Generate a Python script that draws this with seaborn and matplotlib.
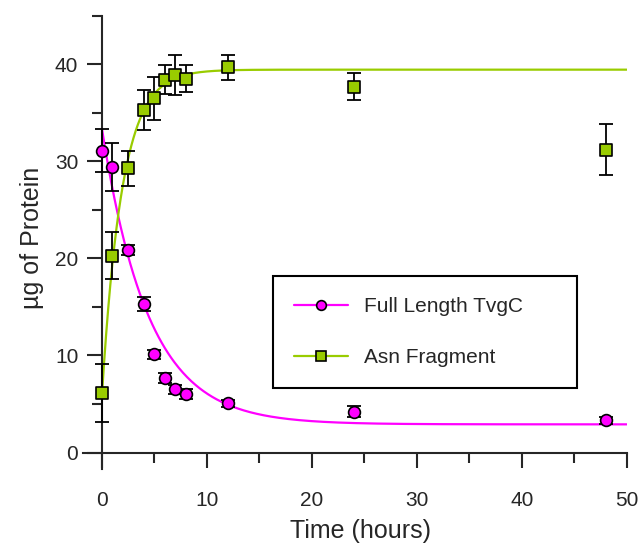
import numpy as np
import pandas as pd
import matplotlib
matplotlib.use("Agg")
import matplotlib.pyplot as plt
import seaborn as sns
from matplotlib.lines import Line2D
from matplotlib.ticker import MultipleLocator

# Measured time points (hours)
times = [0, 1, 2.5, 4, 5, 6, 7, 8, 12, 24, 48]

# Full length TvgC (mean, error)
full_mean = [31.1, 29.4, 20.9, 15.3, 10.1, 7.7, 6.5, 6.0, 5.05, 4.2, 3.3]
full_err = [2.2, 2.5, 0.5, 0.7, 0.5, 0.5, 0.45, 0.5, 0.4, 0.55, 0.35]

# Asn fragment (mean, error)
asn_mean = [6.1, 20.3, 29.3, 35.3, 36.5, 38.4, 38.9, 38.5, 39.7, 37.7, 31.2]
asn_err = [3.0, 2.45, 1.8, 2.1, 2.2, 1.5, 2.1, 1.4, 1.3, 1.4, 2.6]

# One-phase exponential fits: (value at t=0, plateau, rate 1/h)
full_fit = (33.4, 2.9, 0.226)
asn_fit = (5.8, 39.45, 0.52)

labels = ["Full Length TvgC", "Asn Fragment"]
MAGENTA = "#FF00FF"
GREEN = "#99CC00"

sns.set_style("ticks")
plt.rcParams["font.family"] = ["Liberation Sans", "DejaVu Sans"]

df = pd.DataFrame({"time": times, "full": full_mean, "full_err": full_err,
                   "asn": asn_mean, "asn_err": asn_err})

t_fit = np.linspace(0, 50, 500)
fits = pd.DataFrame({"time": t_fit})
for name, (y0, plateau, k) in [("full", full_fit), ("asn", asn_fit)]:
    fits[name] = plateau + (y0 - plateau) * np.exp(-k * t_fit)

# axes box in pixels (left, right, top, bottom)
L, R, T, B = 83, 626.7, 15.8, 469
AW, AH = R - L, B - T

fig = plt.figure(figsize=(6.4, 5.43), dpi=100)
ax = fig.add_axes([L / 640, 1 - B / 543, AW / 640, AH / 543])

# fitted curves
sns.lineplot(data=fits, x="time", y="full", ax=ax, color=MAGENTA, linewidth=1.6, zorder=2)
sns.lineplot(data=fits, x="time", y="asn", ax=ax, color=GREEN, linewidth=1.6, zorder=2)

# error bars
for col, err in [("full", "full_err"), ("asn", "asn_err")]:
    ax.errorbar(df["time"], df[col], yerr=df[err], fmt="none", ecolor="black",
                elinewidth=1.3, capsize=5, capthick=1.3, zorder=3, clip_on=False)

# points
sns.scatterplot(data=df, x="time", y="full", ax=ax, marker="o", s=72, color=MAGENTA,
                edgecolor="black", linewidth=1.2, zorder=4, clip_on=False)
sns.scatterplot(data=df, x="time", y="asn", ax=ax, marker="s", s=64, color=GREEN,
                edgecolor="black", linewidth=1.2, zorder=4, clip_on=False)

ax.set_xlim(-1.8, 50)
ax.set_ylim(-1.7, 45)
ax.spines["left"].set_position(("data", 0))
ax.spines["bottom"].set_position(("data", 0))
for s in ["top", "right"]:
    ax.spines[s].set_visible(False)
for s in ["left", "bottom"]:
    ax.spines[s].set_linewidth(1.5)

ax.xaxis.set_major_locator(MultipleLocator(10))
ax.xaxis.set_minor_locator(MultipleLocator(5))
ax.yaxis.set_major_locator(MultipleLocator(10))
ax.yaxis.set_minor_locator(MultipleLocator(5))
ax.set_xticks(np.arange(0, 51, 10))
ax.set_yticks(np.arange(0, 41, 10))
ax.tick_params(which="major", direction="out", length=11, width=1.5, labelsize=15)
ax.tick_params(which="minor", direction="out", length=7, width=1.5)
ax.tick_params(axis="x", which="major", pad=17)
ax.tick_params(axis="y", which="major", pad=6)

ax.set_xlabel("Time (hours)", fontsize=18)
ax.set_ylabel("µg of Protein", fontsize=18)
ax.xaxis.set_label_coords((360 - L) / AW, -(519 - B) / AH)
ax.yaxis.set_label_coords(-(L - 44) / AW, (B - 237.5) / AH)

handles = [
    Line2D([], [], color=MAGENTA, linewidth=1.6, marker="o", markersize=7,
           markerfacecolor=MAGENTA, markeredgecolor="black", markeredgewidth=1.2),
    Line2D([], [], color=GREEN, linewidth=1.6, marker="s", markersize=6.5,
           markerfacecolor=GREEN, markeredgecolor="black", markeredgewidth=1.2),
]
x0 = (272.7 - L) / AW
y1 = (B - 276) / AH
w = (576.7 - 272.7) / AW
leg = ax.legend(handles, labels, loc="upper left", bbox_to_anchor=(x0, y1 - 0.3, w, 0.3),
                mode="expand", borderaxespad=0, fontsize=15, frameon=True, fancybox=False,
                framealpha=1, edgecolor="black", handlelength=2.6, handletextpad=0.8,
                labelspacing=1.55, borderpad=1.0)
leg.get_frame().set_linewidth(1.5)

fig.savefig("out.png", dpi=100)
